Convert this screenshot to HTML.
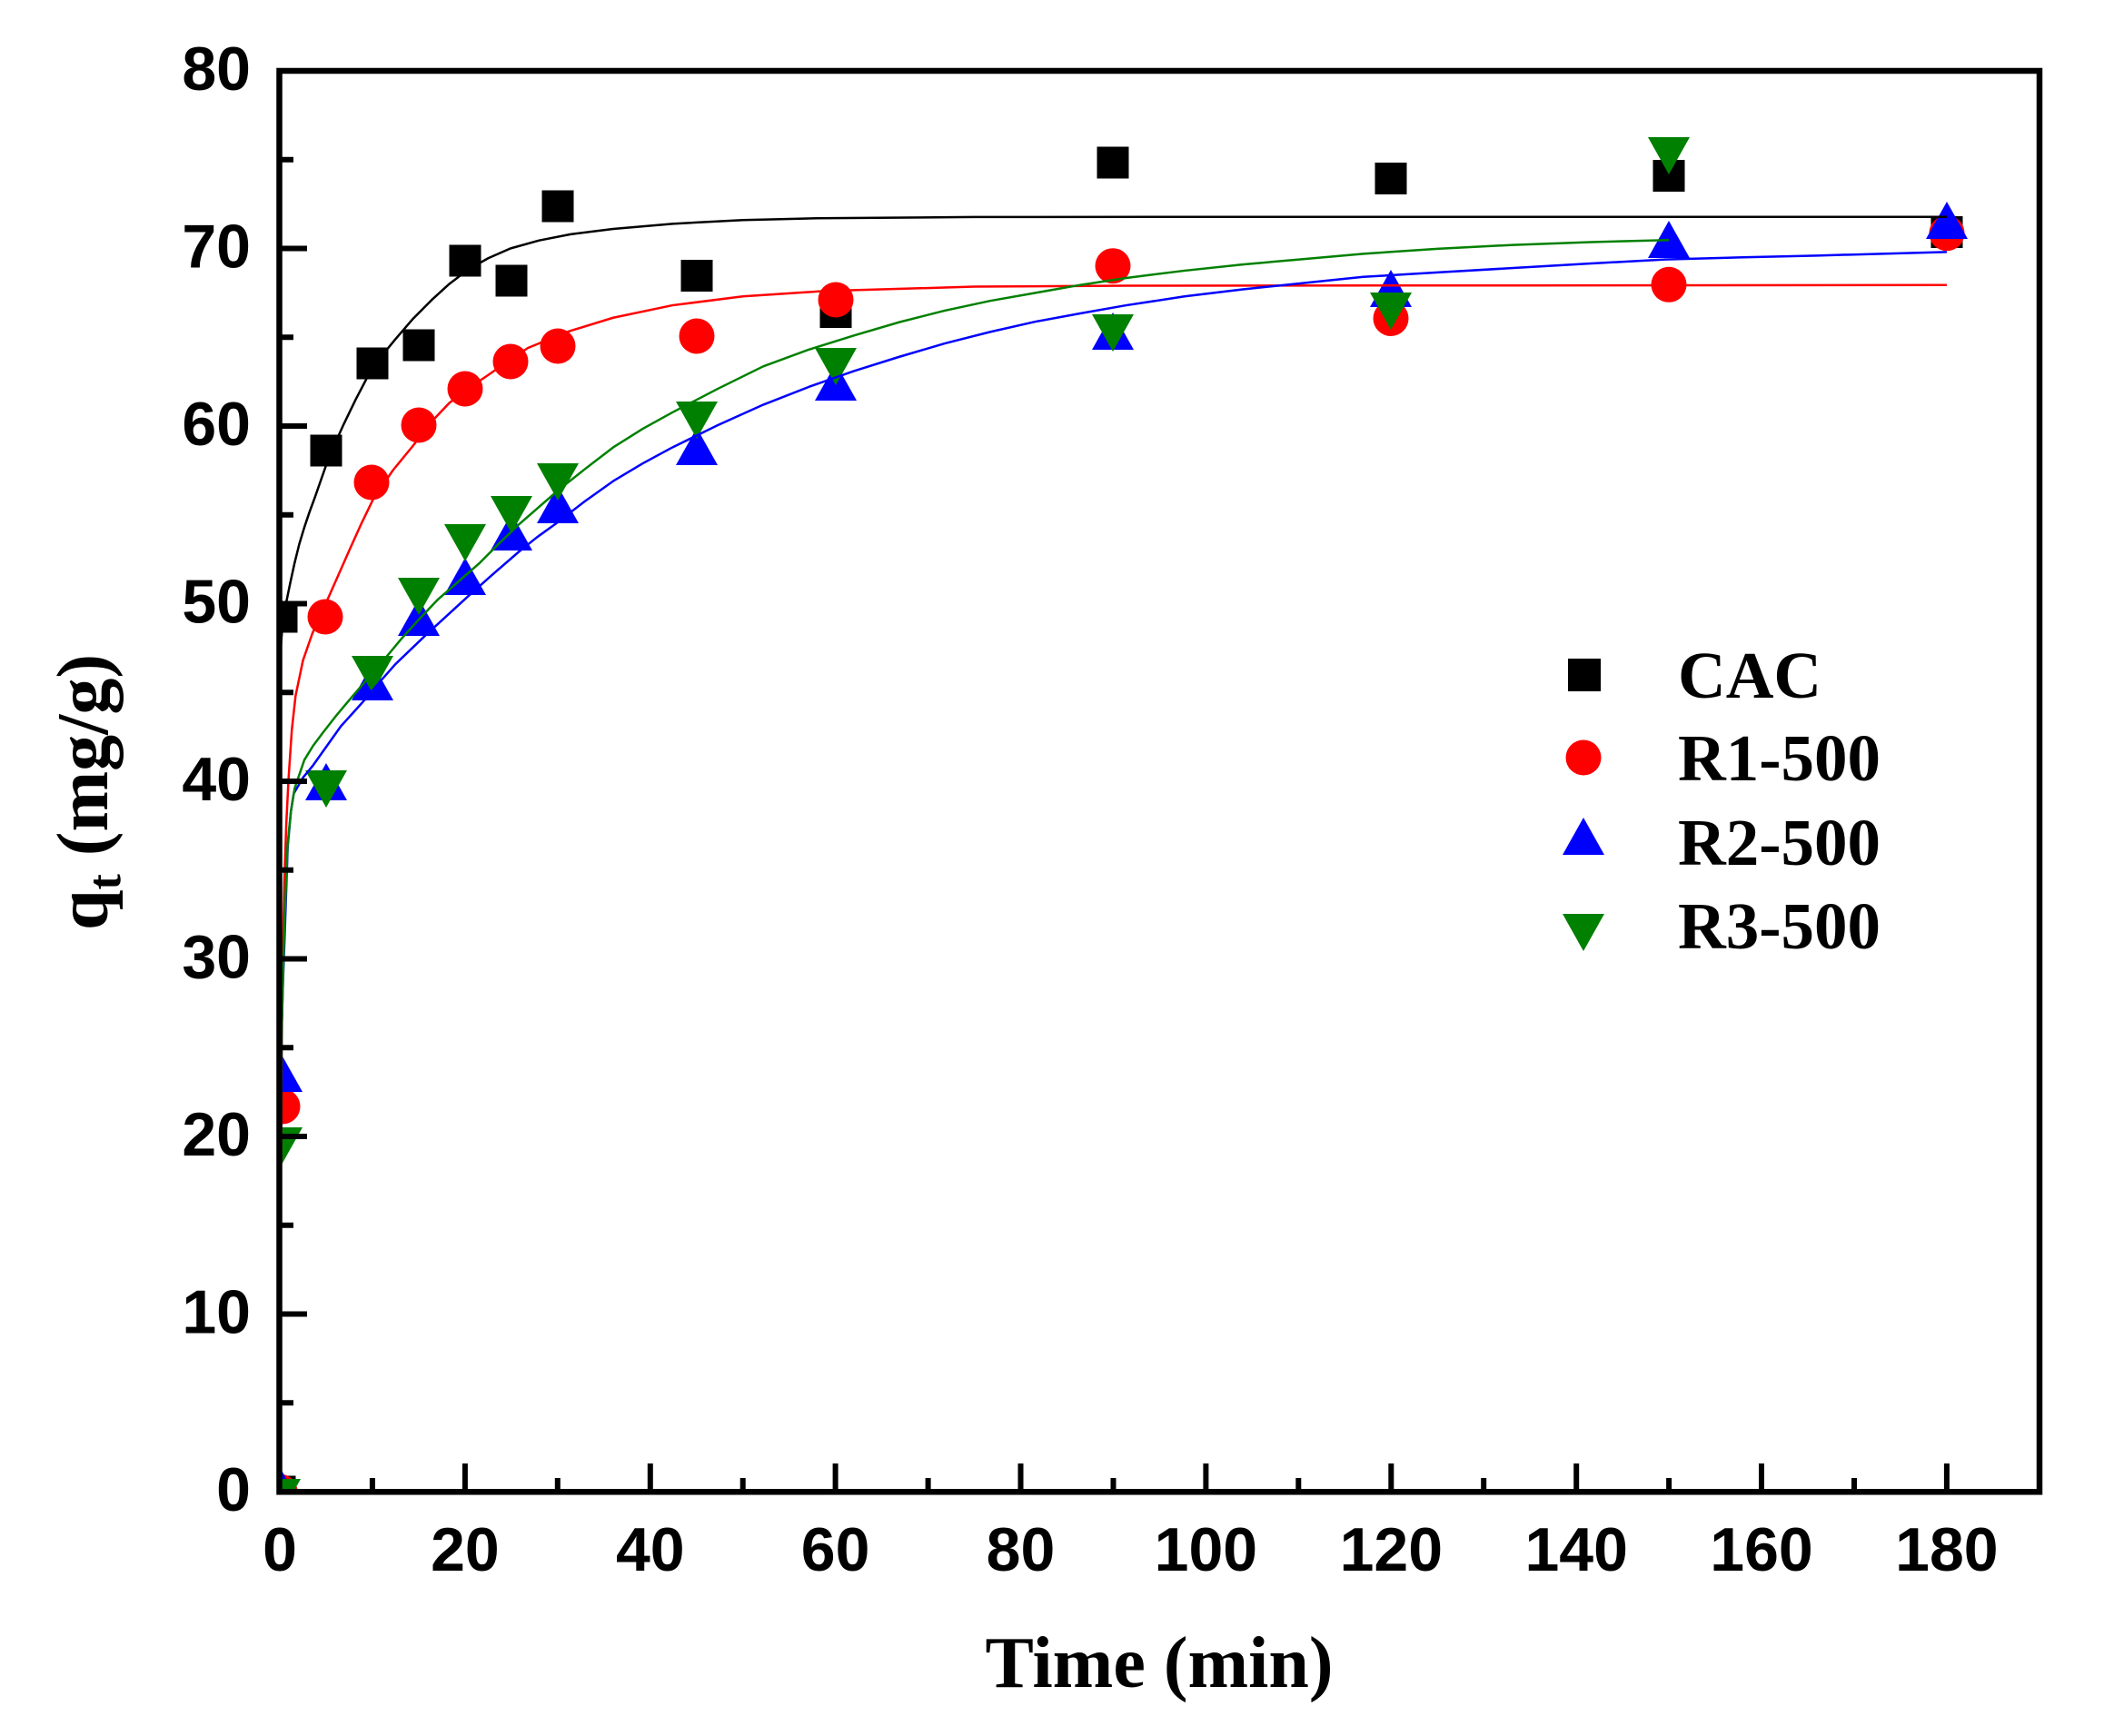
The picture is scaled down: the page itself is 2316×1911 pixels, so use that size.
<!DOCTYPE html>
<html><head><meta charset="utf-8"><style>
html,body{margin:0;padding:0;background:#fff;}
svg{display:block;}
.tl{font-family:"Liberation Sans",Arial,sans-serif;font-weight:bold;font-size:68px;fill:#000;}
.ti{font-family:"Liberation Serif","Times New Roman",serif;font-weight:bold;font-size:80px;fill:#000;}
.lg{font-family:"Liberation Serif","Times New Roman",serif;font-weight:bold;font-size:73px;fill:#000;}
.crv{fill:none;stroke-width:2.5;vector-effect:non-scaling-stroke;stroke-linejoin:round;}
</style></head><body>
<svg width="2316" height="1911" viewBox="0 0 2316 1911" xmlns="http://www.w3.org/2000/svg">
<rect x="0" y="0" width="2316" height="1911" fill="#fff"/>
<defs><clipPath id="pa"><rect x="308" y="78" width="1937" height="1564"/></clipPath></defs>

<g clip-path="url(#pa)">
<!-- CAC squares -->
<g fill="#000">
<rect x="290.5" y="1624.5" width="35" height="35"/>
<rect x="292.5" y="661.5" width="35" height="35"/>
<rect x="341.5" y="478.5" width="35" height="35"/>
<rect x="392.5" y="382.5" width="35" height="35"/>
<rect x="443.5" y="362.5" width="35" height="35"/>
<rect x="494.5" y="269.5" width="35" height="35"/>
<rect x="545.5" y="291.5" width="35" height="35"/>
<rect x="596.5" y="209.5" width="35" height="35"/>
<rect x="749.5" y="286" width="35" height="35"/>
<rect x="902.5" y="326" width="35" height="35"/>
<rect x="1207.5" y="161.5" width="35" height="35"/>
<rect x="1513.5" y="179" width="35" height="35"/>
<rect x="1819.5" y="176" width="35" height="35"/>
<rect x="2125.5" y="238" width="35" height="35"/>
</g>
<!-- R1 circles -->
<g fill="#ff0000">
<circle cx="308" cy="1642" r="19.5"/>
<circle cx="311" cy="1218" r="19.5"/>
<circle cx="358" cy="679" r="19.5"/>
<circle cx="409" cy="531" r="19.5"/>
<circle cx="461" cy="468" r="19.5"/>
<circle cx="512" cy="428" r="19.5"/>
<circle cx="562" cy="398" r="19.5"/>
<circle cx="614" cy="381" r="19.5"/>
<circle cx="767" cy="370" r="19.5"/>
<circle cx="920" cy="330" r="19.5"/>
<circle cx="1225" cy="292.7" r="19.5"/>
<circle cx="1531" cy="350.5" r="19.5"/>
<circle cx="1837" cy="313.3" r="19.5"/>
<circle cx="2143" cy="256.7" r="19.5"/>
</g>
<!-- R2 up triangles -->
<g fill="#0000ff">
<polygon points="308,1615 285,1656 331,1656"/>
<polygon points="310,1161 287,1202 333,1202"/>
<polygon points="359,840 336,881 382,881"/>
<polygon points="410,730 387,771 433,771"/>
<polygon points="461,659 438,700 484,700"/>
<polygon points="512,614 489,655 535,655"/>
<polygon points="563,565 540,606 586,606"/>
<polygon points="614,535 591,576 637,576"/>
<polygon points="767,471 744,512 790,512"/>
<polygon points="920,400 897,441 943,441"/>
<polygon points="1225,344 1202,385 1248,385"/>
<polygon points="1531,297 1508,338 1554,338"/>
<polygon points="1837,243 1814,284 1860,284"/>
<polygon points="2143,222 2120,263 2166,263"/>
</g>
<!-- R3 down triangles -->
<g fill="#008000">
<polygon points="285,1628 331,1628 308,1669"/>
<polygon points="287,1241 333,1241 310,1282"/>
<polygon points="336,848 382,848 359,889"/>
<polygon points="387,722 433,722 410,763"/>
<polygon points="438,636 484,636 461,677"/>
<polygon points="489,577 535,577 512,618"/>
<polygon points="540,546 586,546 563,587"/>
<polygon points="591,510 637,510 614,551"/>
<polygon points="744,442 790,442 767,483"/>
<polygon points="897,383 943,383 920,424"/>
<polygon points="1202,346 1248,346 1225,387"/>
<polygon points="1508,322 1554,322 1531,363"/>
<polygon points="1814,151 1860,151 1837,192"/>
</g>

<!-- fitted curves in data space -->
<g transform="translate(308 1642) scale(10.194 -19.55)">
<polyline class="crv" stroke="#000000" points="0,0 0,44 0.1,47.5 0.35,49.2 0.69,50.06 1.1,51.1 1.6,52.3 2.1,53.35 2.65,54.3 3.2,55.15 3.8,56 4.4,56.9 4.94,57.7 5.9,58.95 6.9,60.1 8.2,61.5 9.5,62.8 11,63.95 12.5,64.9 14.4,66.05 16.4,67.1 18.3,68.0 20.3,68.8 22.5,69.45 24.9,70.0 28,70.45 31.4,70.8 36,71.1 42.4,71.39 50,71.6 58,71.7 75,71.77 100,71.78 180,71.78"/>
<polyline class="crv" stroke="#ff0000" points="0,0 0.1,16 0.2,24.5 0.3,29.5 0.5,34.5 0.7,37.6 0.95,40.2 1.3,42.9 1.7,44.8 2.5,46.8 3.5,48.3 4.4,49.4 5.3,50.4 6.4,51.7 7.5,53.0 8.8,54.5 10.1,55.9 12.2,57.5 14.4,58.9 16.3,60.2 18.3,61.3 20.3,62.1 22.3,62.8 24.5,63.6 26.8,64.4 31,65.3 36,66.1 42.4,66.8 50,67.3 58.7,67.6 75,67.85 91.4,67.9 180,67.94"/>
<polyline class="crv" stroke="#0000ff" points="0,0 0.1,18 0.2,26 0.35,28.8 0.52,31.2 0.85,36.3 1.2,38.3 1.5,39.3 2.5,40.2 3.6,40.9 5.1,42.0 6.6,43.1 7.9,43.85 9.2,44.6 10.8,45.6 12.5,46.6 14.1,47.4 15.7,48.2 18,49.3 20.3,50.4 23.1,51.7 25.9,52.96 27.8,53.75 29.8,54.5 32.9,55.75 36,56.9 39.2,57.9 42.4,58.8 47.3,60.05 52.2,61.2 57.1,62.2 62,63.1 66.9,63.9 71.8,64.65 76.7,65.3 81.6,65.88 86.5,66.35 91.4,66.8 97.7,67.3 104,67.7 110.5,68.05 117,68.4 125,68.65 133.2,68.9 141.4,69.15 149.6,69.38 158,69.5 166,69.6 173,69.7 180,69.8"/>
<polyline class="crv" stroke="#008000" points="0,0 0.1,18 0.2,26 0.5,32 0.85,36.5 1.2,38.3 1.6,39.6 2.65,41.2 3.6,42.0 4.6,42.7 6.1,43.7 7.55,44.6 8.7,45.3 9.84,46.0 11.5,47.0 13.1,48.0 15,49.1 17,50.2 19.3,51.25 21.6,52.3 23.7,53.4 25.9,54.5 28,55.45 30.1,56.4 33,57.6 36,58.8 39.2,59.85 42.4,60.77 47.3,62.1 52.2,63.36 57.1,64.3 62,65.1 66.9,65.85 71.8,66.5 76.7,67.05 81.6,67.5 86.5,67.95 91.4,68.34 97.7,68.75 104,69.1 110.5,69.4 117,69.7 125,69.98 133.2,70.2 141.6,70.36 150,70.47"/>
</g>
</g>

<!-- axes frame -->
<rect x="307.5" y="78" width="1937.5" height="1564.3" fill="none" stroke="#000" stroke-width="6.5"/>

<!-- y ticks -->
<g stroke="#000" stroke-width="6">
<line x1="307" y1="1446.5" x2="338" y2="1446.5"/>
<line x1="307" y1="1251" x2="338" y2="1251"/>
<line x1="307" y1="1055.5" x2="338" y2="1055.5"/>
<line x1="307" y1="860" x2="338" y2="860"/>
<line x1="307" y1="664.5" x2="338" y2="664.5"/>
<line x1="307" y1="469" x2="338" y2="469"/>
<line x1="307" y1="273.5" x2="338" y2="273.5"/>
<line x1="307" y1="1544.25" x2="323" y2="1544.25"/>
<line x1="307" y1="1348.75" x2="323" y2="1348.75"/>
<line x1="307" y1="1153.25" x2="323" y2="1153.25"/>
<line x1="307" y1="957.75" x2="323" y2="957.75"/>
<line x1="307" y1="762.25" x2="323" y2="762.25"/>
<line x1="307" y1="566.75" x2="323" y2="566.75"/>
<line x1="307" y1="371.25" x2="323" y2="371.25"/>
<line x1="307" y1="175.75" x2="323" y2="175.75"/>
<!-- x ticks -->
<line x1="511.9" y1="1643" x2="511.9" y2="1611"/>
<line x1="715.8" y1="1643" x2="715.8" y2="1611"/>
<line x1="919.6" y1="1643" x2="919.6" y2="1611"/>
<line x1="1123.5" y1="1643" x2="1123.5" y2="1611"/>
<line x1="1327.4" y1="1643" x2="1327.4" y2="1611"/>
<line x1="1531.3" y1="1643" x2="1531.3" y2="1611"/>
<line x1="1735.2" y1="1643" x2="1735.2" y2="1611"/>
<line x1="1939" y1="1643" x2="1939" y2="1611"/>
<line x1="2142.9" y1="1643" x2="2142.9" y2="1611"/>
<line x1="409.9" y1="1643" x2="409.9" y2="1627"/>
<line x1="613.8" y1="1643" x2="613.8" y2="1627"/>
<line x1="817.7" y1="1643" x2="817.7" y2="1627"/>
<line x1="1021.6" y1="1643" x2="1021.6" y2="1627"/>
<line x1="1225.5" y1="1643" x2="1225.5" y2="1627"/>
<line x1="1429.3" y1="1643" x2="1429.3" y2="1627"/>
<line x1="1633.2" y1="1643" x2="1633.2" y2="1627"/>
<line x1="1837.1" y1="1643" x2="1837.1" y2="1627"/>
<line x1="2041" y1="1643" x2="2041" y2="1627"/>
</g>

<!-- y tick labels -->
<g class="tl" text-anchor="end">
<text x="276" y="1663">0</text>
<text x="276" y="1467.5">10</text>
<text x="276" y="1272">20</text>
<text x="276" y="1076.5">30</text>
<text x="276" y="881">40</text>
<text x="276" y="685.5">50</text>
<text x="276" y="490">60</text>
<text x="276" y="294.5">70</text>
<text x="276" y="99">80</text>
</g>
<!-- x tick labels -->
<g class="tl" text-anchor="middle">
<text x="308" y="1729">0</text>
<text x="511.9" y="1729">20</text>
<text x="715.8" y="1729">40</text>
<text x="919.6" y="1729">60</text>
<text x="1123.5" y="1729">80</text>
<text x="1327.4" y="1729">100</text>
<text x="1531.3" y="1729">120</text>
<text x="1735.2" y="1729">140</text>
<text x="1939" y="1729">160</text>
<text x="2142.9" y="1729">180</text>
</g>

<!-- axis titles -->
<text class="ti" x="1276" y="1857" text-anchor="middle">Time (min)</text>
<text class="ti" transform="translate(118 872) rotate(-90)" text-anchor="middle">q<tspan font-size="52" dy="14">t</tspan><tspan dy="-14"> (mg/g)</tspan></text>

<!-- legend -->
<rect x="1726" y="725" width="36" height="36" fill="#000"/>
<circle cx="1743" cy="834" r="19.5" fill="#ff0000"/>
<polygon points="1743,900 1720,941 1766,941" fill="#0000ff"/>
<polygon points="1720,1006 1766,1006 1743,1047" fill="#008000"/>
<g class="lg">
<text x="1847" y="768">CAC</text>
<text x="1847" y="859">R1-500</text>
<text x="1847" y="952">R2-500</text>
<text x="1847" y="1044">R3-500</text>
</g>
</svg>
</body></html>
